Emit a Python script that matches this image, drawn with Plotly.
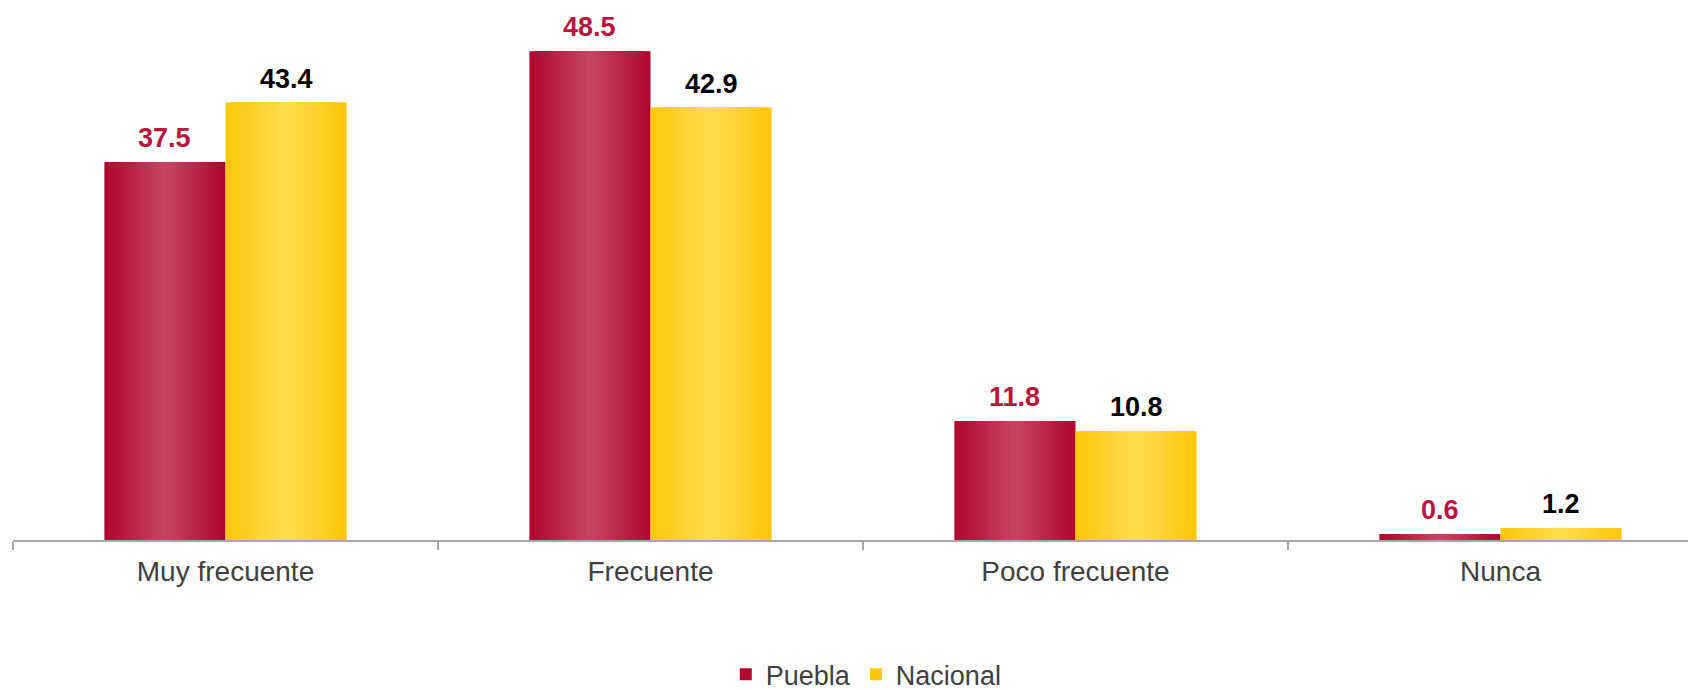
import plotly.graph_objects as go

categories = ["Muy frecuente", "Frecuente", "Poco frecuente", "Nunca"]
puebla = [37.5, 48.5, 11.8, 0.6]
nacional = [43.4, 42.9, 10.8, 1.2]
series_names = ["Puebla", "Nacional"]

# style
FONT = "Arial, Liberation Sans, sans-serif"
BAR_W = 0.285
N_LAYERS = 14
red_edge, red_mid = (176, 8, 48), (198, 68, 98)
yel_edge, yel_mid = (255, 199, 12), (255, 220, 78)
label_colors = ["#B8153F", "#000000"]


def mix(a, b, t):
    return "rgb(%d,%d,%d)" % tuple(round(a[i] + (b[i] - a[i]) * t) for i in range(3))


fig = go.Figure()
for s, (name, vals, edge, mid, base_off) in enumerate([
    ("Puebla", puebla, red_edge, red_mid, -BAR_W),
    ("Nacional", nacional, yel_edge, yel_mid, 0.0),
]):
    for k in range(N_LAYERS):
        inset = BAR_W * k / (2 * N_LAYERS)
        w = BAR_W - 2 * inset
        t = k / (N_LAYERS - 1)
        fig.add_trace(go.Bar(
            x=categories, y=vals, name=name,
            width=w, offset=base_off + inset,
            marker=dict(color=mix(edge, mid, t), line=dict(width=0)),
            showlegend=(k == 0), legendgroup=name,
            hoverinfo="skip" if k else None,
        ))
    for i, v in enumerate(vals):
        fig.add_annotation(
            x=i + base_off + BAR_W / 2, y=v, xref="x", yref="y",
            text="<b>%.1f</b>" % v, showarrow=False,
            yanchor="bottom", yshift=7,
            font=dict(family=FONT, size=27, color=label_colors[s]),
        )

# page body has an 8px margin, so the figure is 8px smaller and margins are shifted
fig.update_layout(
    width=1688, height=682,
    barmode="overlay",
    paper_bgcolor="white", plot_bgcolor="white",
    margin=dict(l=5, r=0, t=2, b=150, autoexpand=False),
    font=dict(family=FONT, size=27, color="#404040"),
    legend=dict(orientation="h", x=0.507, xanchor="center", y=-0.254, yanchor="middle",
                font=dict(family=FONT, size=27, color="#404040"),
                itemwidth=30, traceorder="normal"),
    showlegend=True,
)
fig.update_xaxes(
    type="category", range=[-0.5, 3.46], automargin=False,
    showline=True, linecolor="#A6A6A6", linewidth=2,
    ticks="outside", tickson="boundaries", ticklen=8, tickcolor="#A6A6A6", tickwidth=2,
    showgrid=False, zeroline=False, ticklabelstandoff=5,
    tickfont=dict(family=FONT, size=28, color="#404040"),
)
fig.update_yaxes(range=[0, 52.58], visible=False, showgrid=False, zeroline=False)

fig.write_html("out.html")
